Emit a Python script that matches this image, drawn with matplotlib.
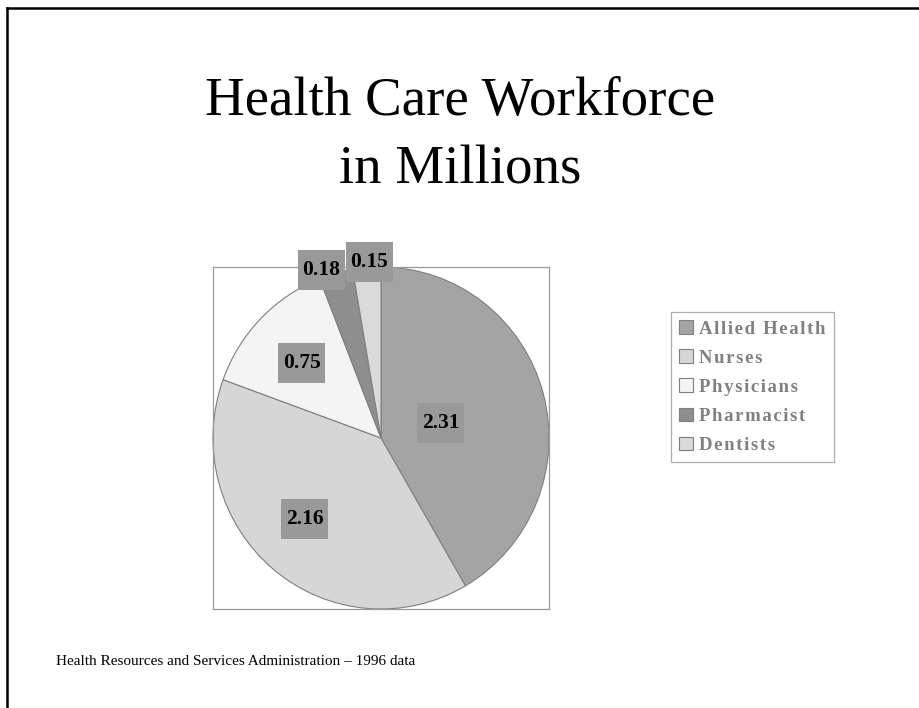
import matplotlib.pyplot as plt
import numpy as np
from matplotlib.patches import Patch, Rectangle
from matplotlib.lines import Line2D
from matplotlib.transforms import ScaledTranslation

plt.rcParams['font.family'] = ['Liberation Serif', 'DejaVu Serif']

# data
categories = ['Allied Health', 'Nurses', 'Physicians', 'Pharmacist', 'Dentists']
workforce = [2.31, 2.16, 0.75, 0.18, 0.15]
value_labels = ['2.31', '2.16', '0.75', '0.18', '0.15']
title_lines = ['Health Care Workforce', 'in Millions']
source_note = 'Health Resources and Services Administration \u2013 1996 data'

colors = ['#a4a4a4', '#d6d6d6', '#f4f4f4', '#8e8e8e', '#dadada']
# where each value box sits: distance from centre and a small angular nudge (deg)
label_radius = [0.365, 0.657, 0.645, 1.045, 1.03]
label_nudge = [-1.0, -3.9, 1.3, 4.3, -0.9]
box_w, box_h = 0.47, 0.40   # value box size, inches


def spaced(s):
    # legend text in the original is letter-spaced
    return '\u200a'.join(s)


fig = plt.figure(figsize=(9.2, 7.08), dpi=100)

# pie area (plot area with gray box)
ax = fig.add_axes([213 / 920, 1 - 609 / 708, 336 / 920, 342 / 708])
wedges, _ = ax.pie(workforce, colors=colors, startangle=90, counterclock=False,
                   radius=1.0, frame=True,
                   wedgeprops=dict(edgecolor='#7f7f7f', linewidth=0.8))
ax.set_aspect('auto')
ax.set_xlim(-1.0, 1.0)
ax.set_ylim(-1.0, 1.0)
ax.set_xticks([])
ax.set_yticks([])
for sp in ax.spines.values():
    sp.set_color('#9a9a9a')
    sp.set_linewidth(0.9)

# value labels in gray boxes
for w, lab, r, d in zip(wedges, value_labels, label_radius, label_nudge):
    ang = np.deg2rad((w.theta1 + w.theta2) / 2 + d)
    x, y = r * np.cos(ang), r * np.sin(ang)
    tr = fig.dpi_scale_trans + ScaledTranslation(x, y, ax.transData)
    ax.add_patch(Rectangle((-box_w / 2, -box_h / 2), box_w, box_h, transform=tr,
                           facecolor='#999999', edgecolor='none', clip_on=False, zorder=3))
    ax.text(x, y, lab, ha='center', va='center', fontsize=15.5, fontweight='bold',
            color='black', clip_on=False, zorder=4)

# legend
handles = [Patch(facecolor=c, edgecolor='#7f7f7f', linewidth=0.8) for c in colors]
leg = fig.legend(handles, [spaced(c) for c in categories], loc='upper left',
                 bbox_to_anchor=(671 / 920, 1 - 312 / 708),
                 frameon=True, fancybox=False, edgecolor='#9a9a9a',
                 handlelength=0.75, handleheight=0.75, handletextpad=0.3,
                 labelspacing=0.62, borderpad=0.45, borderaxespad=0,
                 prop=dict(family=['Liberation Serif', 'DejaVu Serif'], weight='bold', size=13.5))
leg.get_frame().set_linewidth(0.9)
for t in leg.get_texts():
    t.set_color('#808080')

# title, two lines
fig.text(0.5, 1 - 115 / 708, title_lines[0], ha='center', va='baseline', fontsize=39.5)
fig.text(0.5, 1 - 184 / 708, title_lines[1], ha='center', va='baseline', fontsize=39.5)

# source note
fig.text(56 / 920, 1 - 665 / 708, source_note, ha='left', va='baseline', fontsize=11)

# slide frame
fig.add_artist(Line2D([7.5 / 920, 1], [1 - 7.5 / 708, 1 - 7.5 / 708], color='black',
                      linewidth=1.8, transform=fig.transFigure))
fig.add_artist(Line2D([7.5 / 920, 7.5 / 920], [0, 1 - 7.5 / 708], color='black',
                      linewidth=1.8, transform=fig.transFigure))

fig.savefig('out.png', dpi=100, facecolor='white')
